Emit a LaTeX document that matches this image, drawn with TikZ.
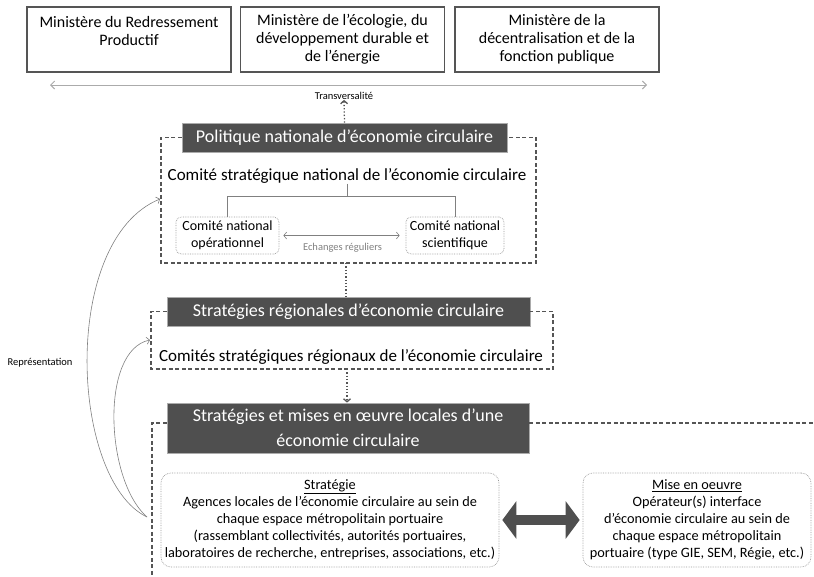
\documentclass[tikz,border=0pt]{standalone}
\usepackage{fontspec}
\setmainfont{Carlito}
\usetikzlibrary{positioning, arrows.meta, shapes}
\tikzset{>=latex}
\definecolor{fonce}{HTML}{4F4F4F}
\definecolor{trait}{HTML}{555555}
\definecolor{clair}{HTML}{ABABAB}
\newcommand{\taille}[2]{\fontsize{#1}{#2}\selectfont}
\tikzset{
	ministere/.style={draw=trait, line width=1.2pt, minimum width=204pt, minimum height=65pt, inner sep=0pt, align=center, font=\taille{16}{18}},
	titre/.style={fill=fonce, draw=clair, line width=0.8pt, text=white, inner sep=0pt, align=center, font=\taille{18}{25}},
	comite/.style={inner sep=0pt, font=\taille{17}{18}},
	petitbox/.style={draw=gray!80, line width=0.7pt, densely dotted, rounded corners=5pt, inner sep=0pt, align=center, font=\taille{14}{17}},
	grandbox/.style={draw=gray!80, line width=0.7pt, densely dotted, rounded corners=10pt, inner sep=0pt, align=center, font=\taille{14.3}{17}},
	cadre/.style={trait, line width=1.1pt, dash pattern=on 4pt off 2.5pt},
	pointille/.style={trait, line width=1.3pt, dotted},
	fleche/.style={-{Straight Barb[length=3pt,width=7pt]}},
	lien/.style={gray, line width=0.6pt},
	petit/.style={inner sep=0pt, font=\taille{10.5}{12}}
}
\begin{document}
\begin{tikzpicture}[x=1pt, y=1pt]
		\useasboundingbox (0,0) rectangle (814,-576);
		% Ministeres
		\node[ministere] (min1) at (129,-39.5) {Ministère du Redressement\\Productif\\\mbox{}};
		\node[ministere] (min2) at (342.5,-39.5) {Ministère de l’écologie, du\\développement durable et\\de l’énergie};
		\node[ministere] (min3) at (557,-39.5) {Ministère de la\\décentralisation et de la\\fonction publique};
		% Transversalite
		\coordinate (tg) at (50,-85);
		\coordinate (td) at (647,-85);
		\draw[clair, line width=1pt, {Straight Barb[length=4pt,width=8pt]}-{Straight Barb[length=4pt,width=8pt]}] (tg) -- (td);
		\node[petit] (trans) at (344,-96) {Transversalité};
		% National
		\node[titre, minimum width=325pt, minimum height=29pt] (pol) at (344.5,-137.5) {Politique nationale d’économie circulaire};
		\draw[cadre] (pol.west) -- (161,-137.5) -- (161,-263) -- (536,-263) -- (536,-137.5) -- (pol.east);
		\draw[pointille, fleche] (pol.north) -- (trans.south);
		\node[comite] (csn) at (347,-176) {Comité stratégique national de l’économie circulaire};
		\node[petitbox, minimum width=103pt, minimum height=37pt] (cno) at (227.5,-235.5) {Comité national\\opérationnel};
		\node[petitbox, minimum width=98pt, minimum height=37pt] (cns) at (455,-235.5) {Comité national\\scientifique};
		\draw[lien] (csn.south) -- ++(0,-13) coordinate (br);
		\draw[lien] (cno.north) |- (br) -| (cns.north);
		\draw[lien, {Straight Barb[length=3pt,width=7pt]}-{Straight Barb[length=3pt,width=7pt]}, shorten <=4pt, shorten >=6pt] (cno.east) -- (cns.west) node[petit, midway, below=7pt] {Echanges réguliers};
		% Regional
		\node[titre, minimum width=363pt, minimum height=29pt] (reg) at (348.5,-311.5) {Stratégies régionales d’économie circulaire};
		\draw[cadre] (reg.west) -- (151,-311.5) -- (151,-369) -- (553,-369) -- (553,-311.5) -- (reg.east);
		\node[comite] (csr) at (351,-357) {Comités stratégiques régionaux de l’économie circulaire};
		\coordinate (nb) at (346,-263);
		\draw[pointille] (nb) -- (nb |- reg.north);
		\coordinate (rb) at (347,-369);
		% Local
		\node[titre, minimum width=362pt, minimum height=50pt] (loc) at (348,-428) {Stratégies et mises en œuvre locales d’une\\économie circulaire};
		\draw[pointille, fleche] (rb) -- (rb |- loc.north);
		\draw[cadre] (loc.west |- 0,-423) -- (152,-423) -- (152,-576);
		\draw[cadre] (loc.east |- 0,-423) -- (814,-423);
		\node[grandbox, minimum width=338pt, minimum height=94pt] (strat) at (330,-520) {\underline{Stratégie}\\Agences locales de l’économie circulaire au sein de\\chaque espace métropolitain portuaire\\(rassemblant collectivités, autorités portuaires,\\laboratoires de recherche, entreprises, associations, etc.)};
		\node[grandbox, minimum width=228pt, minimum height=94pt] (mise) at (697,-520) {\underline{Mise en oeuvre}\\Opérateur(s) interface\\d’économie circulaire au sein de\\chaque espace métropolitain\\portuaire (type GIE, SEM, Régie, etc.)};
		\draw[fonce, line width=10pt, {Triangle[length=14pt,width=37pt]}-{Triangle[length=14pt,width=37pt]}, shorten <=3pt, shorten >=3pt] (strat.east) -- (mise.west);
		% Representation
		\coordinate (rep) at (147,-517);
		\coordinate (natg) at (160,-199);
		\coordinate (regg) at (150,-340);
		\draw[lien, fleche] (rep) .. controls (70,-480) and (60,-240) .. (natg);
		\draw[lien, fleche] (rep) .. controls (105,-480) and (100,-350) .. (regg);
		\node[petit] (repr) at (40,-363) {Représentation};
	\end{tikzpicture}
\end{document}
